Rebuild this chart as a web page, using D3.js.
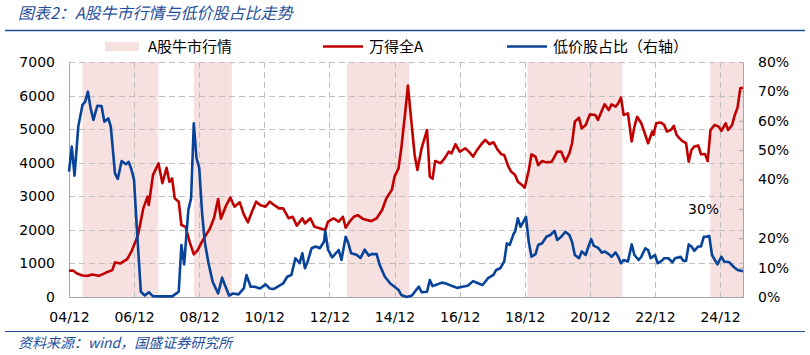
<!DOCTYPE html>
<html lang="zh">
<head>
<meta charset="utf-8">
<title>A股牛市行情与低价股占比走势</title>
<script src="https://d3js.org/d3.v7.min.js"></script>
<style>
  body { margin: 0; background: #fff; }
  svg { display: block; }
  text { font-family: "DejaVu Sans", Verdana, sans-serif; fill: #000; }
  .cjk { font-family: "Noto Sans CJK SC", "DejaVu Sans", sans-serif; }
</style>
</head>
<body>
<svg id="chart" width="810" height="355"></svg>
<script>
// bull market periods (shaded)
var bullStart = ["2005-05-01", "2008-10-01", "2013-06-15", "2019-01-01", "2024-08-15"];
var bullEnd   = ["2007-09-01", "2009-12-01", "2015-05-15", "2021-12-01", "2025-08-15"];

// 万得全A (left axis)
var windDates = ["2004-12","2005-01-15","2005-03","2005-05","2005-07","2005-08-15","2005-10","2005-11","2006-01-15","2006-04",
  "2006-05","2006-07","2006-09-15","2006-11","2007-01-15","2007-03-15","2007-05","2007-05-15","2007-07","2007-09",
  "2007-10-15","2007-12","2008-01","2008-02","2008-03","2008-04-15","2008-05-15","2008-07","2008-08-15","2008-10",
  "2008-11-15","2009-01","2009-04","2009-05-15","2009-07","2009-08","2009-10","2009-11-15","2010-01","2010-03",
  "2010-04-15","2010-06","2010-07-15","2010-09","2010-10-15","2010-12-15","2011-02","2011-04","2011-05-15","2011-07",
  "2011-09","2011-10-15","2011-12","2012-02","2012-03","2012-05","2012-06-15","2012-08-15","2012-10-15","2012-11-15",
  "2013-01-15","2013-03-15","2013-05","2013-06","2013-07-15","2013-09","2013-10-15","2013-12-15","2014-03-15","2014-05-15",
  "2014-07-15","2014-09","2014-11","2014-12","2015-01-15","2015-02-15","2015-04","2015-05","2015-06","2015-07-15",
  "2015-08-15","2015-10","2015-12","2016-01","2016-02","2016-03","2016-05","2016-06-15","2016-08","2016-09",
  "2016-10-15","2016-12","2017-02","2017-03-15","2017-05","2017-06-15","2017-08","2017-09-15","2017-11","2017-12-15",
  "2018-02","2018-03-15","2018-04-15","2018-06","2018-07","2018-08-15","2018-09-15","2018-11","2018-12","2019-01-15",
  "2019-02-15","2019-04","2019-05","2019-06-15","2019-08","2019-10","2019-12","2020-01-15","2020-03","2020-04-15",
  "2020-05-15","2020-06-15","2020-08","2020-09","2020-10-15","2020-12","2021-02","2021-03","2021-05-15","2021-07",
  "2021-08","2021-09-15","2021-10-15","2021-11-15","2021-12-15","2022-02","2022-03-15","2022-04-15","2022-05-15","2022-07",
  "2022-08-15","2022-09-15","2022-11","2022-11-15","2022-12-15","2023-02","2023-03-15","2023-04-15","2023-06","2023-07",
  "2023-08","2023-09","2023-10","2023-11-15","2023-12-15","2024-01-15","2024-02-15","2024-04","2024-05","2024-06-15",
  "2024-07-15","2024-08-15","2024-10","2024-11-15","2024-12-15","2025-02","2025-03","2025-04-15","2025-05-15","2025-06-15",
  "2025-07-15","2025-08-15"];
var windValues = [780,790,700,640,630,670,650,630,720,800,
  1030,1000,1130,1350,1850,2640,2990,2740,3630,3980,
  3390,3850,3430,3530,2940,2840,2145,2090,1650,1270,
  1400,1650,2045,2345,2920,2330,2740,2960,2690,2820,
  2460,2225,2540,2840,2740,2690,2840,2720,2640,2640,
  2345,2390,2125,2345,2190,2345,2095,2045,1995,2245,
  2345,2245,2390,2065,2245,2390,2440,2320,2260,2345,
  2590,2940,3190,3585,3830,4430,5520,6300,5425,4230,
  3785,4430,4975,3585,3520,4050,3985,4130,4330,4280,
  4550,4330,4430,4330,4180,4380,4550,4680,4550,4610,
  4380,4250,4230,3880,3735,3635,3435,3335,3255,3770,
  4250,4180,3930,4050,4010,4030,4330,4330,4030,4280,
  4580,5220,5340,5025,5125,5440,5420,5275,5740,5570,
  5740,5670,5770,5940,5420,5470,4630,5075,5370,5175,
  4830,4580,4930,4830,5175,5200,5125,4930,4980,5100,
  4830,4730,4650,4580,4030,4380,4480,4510,4250,4260,
  4050,4975,5125,5075,4950,5175,4975,5125,5420,5640,
  6215,6235];

// 低价股占比 % (right axis)
var lowDates = ["2004-12","2005-01","2005-02","2005-03-15","2005-05","2005-06","2005-07","2005-08","2005-09","2005-10-15",
  "2005-12","2006-01","2006-02-15","2006-03-15","2006-05","2006-06","2006-07-15","2006-09","2006-10","2006-11",
  "2006-12","2007-01","2007-02-15","2007-04","2007-05-15","2007-07","2007-10-15","2008-02","2008-04","2008-04-15",
  "2008-05-15","2008-06-15","2008-08","2008-09","2008-10","2008-11","2008-12","2009-01","2009-02","2009-03-15",
  "2009-05","2009-07","2009-08-15","2009-09-15","2009-11","2009-12-15","2010-02-15","2010-04-15","2010-05-15","2010-07",
  "2010-08-15","2010-10-15","2010-12-15","2011-02","2011-03-15","2011-05","2011-07","2011-08-15","2011-10","2011-11-15",
  "2012-01","2012-02","2012-03","2012-04","2012-05-15","2012-07","2012-08-15","2012-10","2012-10-15","2012-11-15",
  "2013-01","2013-03-15","2013-04-15","2013-06","2013-07","2013-08","2013-10","2013-11-15","2014-01","2014-02-15",
  "2014-03-15","2014-05-15","2014-06-15","2014-08-15","2014-10-15","2014-12","2015-01-15","2015-02-15","2015-04-15","2015-06-15",
  "2015-08","2015-09","2015-10","2015-12","2016-01","2016-02","2016-03-15","2016-05-15","2016-07","2016-09",
  "2016-11","2017-01","2017-03","2017-05","2017-07","2017-08-15","2017-10-15","2017-12-15","2018-01-15","2018-03",
  "2018-04-15","2018-05-15","2018-06-15","2018-08","2018-08-15","2018-09-15","2018-10-15","2018-11-15","2018-12-15","2019-01-15",
  "2019-02-15","2019-04","2019-05","2019-06-15","2019-08","2019-09-15","2019-11","2019-12","2020-01-15","2020-03",
  "2020-04-15","2020-05-15","2020-06-15","2020-08","2020-09","2020-10-15","2020-11-15","2020-12-15","2021-01-15","2021-03",
  "2021-04-15","2021-05-15","2021-07","2021-08","2021-09-15","2021-10-15","2021-11-15","2021-12-15","2022-02","2022-03-15",
  "2022-04-15","2022-06","2022-07","2022-08-15","2022-09-15","2022-10-15","2022-12","2023-01","2023-02-15","2023-03-15",
  "2023-05","2023-06-15","2023-07-15","2023-09-15","2023-10-15","2023-11-15","2023-12-15","2024-01-15","2024-02-15","2024-04",
  "2024-05","2024-06","2024-07","2024-08","2024-09","2024-11","2024-12-15","2025-01-15","2025-03-15","2025-05",
  "2025-06-15","2025-08-15"];
var lowValues = [42.7,51.2,41.3,58,65.4,66.5,69.9,64.2,60.3,65.1,
  65,59.7,60.8,58,42.1,40.2,46.3,45.2,46,43.5,
  39.8,23.4,1.8,0.5,1.6,0.3,0.2,0.2,1.5,1.8,
  17.7,11.1,29.6,33.6,59.1,47.2,44,29,18.8,11.5,
  5.2,1.2,6.6,4.1,0.5,1.2,0.9,2.9,7.5,3.5,
  3.5,2.9,4.3,2.9,2.7,3.5,4.6,6.9,7.5,13.2,
  11.5,14.9,9.8,12.1,16.6,17.2,16.6,18.8,22.5,16.1,
  13.5,16,12.6,20.5,18.3,14.9,14.4,13.3,16.1,14.1,
  14.6,14.6,11.1,6.9,4.6,3.5,2.4,0.7,0,0.5,
  2.4,3.5,1.6,1.8,5.8,3.7,4.2,4.9,4.6,3.8,
  3.1,3.5,3.8,5.4,4.6,4.1,6.4,7.5,9.2,9.8,
  12.1,18.3,17.7,21.7,22.2,26.8,23.9,25.6,27.3,18.8,
  13.7,14.6,17.7,18.3,20.5,21.1,22.5,19.4,20.5,22.2,
  21.1,18.8,14.3,13.2,15.5,14.3,17.2,19.7,17.4,16.8,
  15.1,15.5,14.6,13.7,15.2,13.7,11.5,12.6,12.1,17.9,
  14.3,12.6,13.7,16.6,16,13.2,14.3,11.5,12.3,13.2,
  13.2,11.8,13.2,13.7,12.3,12.3,17.9,17.2,15.7,17.2,
  17.2,20.5,20.5,20.8,14.3,11.1,13.7,12.1,11.8,10.3,
  9.2,8.8];

var leftTicks = [0, 1000, 2000, 3000, 4000, 5000, 6000, 7000];
var rightTicks = [0, 10, 20, 30, 40, 50, 60, 70, 80];
var xTickDates = ["2004-12","2006-12","2008-12","2010-12","2012-12","2014-12","2016-12","2018-12","2020-12","2022-12","2024-12"];

var parse = function(s) { return s.length == 7 ? d3.timeParse("%Y-%m")(s) : d3.timeParse("%Y-%m-%d")(s) };

var red = "#c00000", blue = "#08439a", navy = "#1f4e9a", pink = "#f6e0e0", grid = "#bfbfbf", axisCol = "#a6a6a6";

var plot = {left: 69, right: 743, top: 62, bottom: 297};

var x = d3.scaleTime().domain([parse("2004-12"), parse("2025-08-15")]).range([plot.left, plot.right]);
var yL = d3.scaleLinear().domain([0, 7000]).range([plot.bottom, plot.top]);
var yR = d3.scaleLinear().domain([0, 80]).range([plot.bottom, plot.top]);

var svg = d3.select("#chart");

// title + rules
svg.append("text").attr("class", "cjk").attr("x", 18).attr("y", 19)
  .style("font-size", "16px").style("font-style", "italic").style("fill", navy)
  .text("图表2：A股牛市行情与低价股占比走势");
svg.append("line").attr("x1", 5).attr("x2", 805).attr("y1", 30.5).attr("y2", 30.5)
  .attr("stroke", navy).attr("stroke-width", 1.5);
svg.append("line").attr("x1", 5).attr("x2", 805).attr("y1", 331.5).attr("y2", 331.5)
  .attr("stroke", navy).attr("stroke-width", 1.2);
svg.append("text").attr("class", "cjk").attr("x", 18).attr("y", 348)
  .style("font-size", "14px").style("font-style", "italic").style("fill", navy)
  .text("资料来源：wind，国盛证券研究所");

// shaded bull markets
svg.append("g").selectAll("rect").data(bullStart).join("rect")
  .attr("x", d => x(parse(d)))
  .attr("width", (d, i) => x(parse(bullEnd[i])) - x(parse(d)))
  .attr("y", plot.top).attr("height", plot.bottom - plot.top)
  .attr("fill", pink);

// horizontal grid
svg.append("g").selectAll("line").data(leftTicks.slice(1)).join("line")
  .attr("x1", plot.left).attr("x2", plot.right)
  .attr("y1", d => Math.round(yL(d)) + 0.5).attr("y2", d => Math.round(yL(d)) + 0.5)
  .attr("stroke", grid).attr("stroke-dasharray", "6,4");
// vertical grid
svg.append("g").selectAll("line").data(xTickDates.slice(1)).join("line")
  .attr("x1", d => Math.round(x(parse(d))) + 0.5).attr("x2", d => Math.round(x(parse(d))) + 0.5)
  .attr("y1", plot.top).attr("y2", plot.bottom)
  .attr("stroke", grid).attr("stroke-dasharray", "6,4");

// axes
var axL = svg.append("g").attr("transform", "translate(" + plot.left + ",0)")
  .call(d3.axisLeft(yL).tickValues(leftTicks).tickSize(0).tickPadding(14).tickFormat(d3.format("d")));
var axR = svg.append("g").attr("transform", "translate(" + plot.right + ",0)")
  .call(d3.axisRight(yR).tickValues(rightTicks).tickSize(-4).tickPadding(15).tickFormat(d => d + "%"));
var axB = svg.append("g").attr("transform", "translate(0," + plot.bottom + ")")
  .call(d3.axisBottom(x).tickValues(xTickDates.map(parse)).tickSize(0).tickPadding(15).tickFormat(d3.timeFormat("%y/%m")));
[axL, axR, axB].forEach(function(a) {
  a.select(".domain").attr("stroke", axisCol);
  a.selectAll(".tick line").attr("stroke", axisCol);
  a.selectAll("text").style("font-size", "14px").style("font-family", "DejaVu Sans, Verdana, sans-serif").attr("fill", "#000");
});
axR.selectAll(".tick line").attr("x2", -4).attr("x1", 0);
// the 30% label sits inside the plot in the original
axR.selectAll(".tick text").filter(d => d == 30).attr("x", -55);

// lines
var redLine = d3.line().x(d => x(parse(d[0]))).y(d => yL(d[1]));
var blueLine = d3.line().x(d => x(parse(d[0]))).y(d => yR(d[1]));
svg.append("path").datum(d3.zip(windDates, windValues)).attr("d", redLine)
  .attr("fill", "none").attr("stroke", red).attr("stroke-width", 2.6).attr("stroke-linejoin", "round");
svg.append("path").datum(d3.zip(lowDates, lowValues)).attr("d", blueLine)
  .attr("fill", "none").attr("stroke", blue).attr("stroke-width", 2.6).attr("stroke-linejoin", "round");

// legend
var lg = svg.append("g").attr("class", "cjk").style("font-size", "15px");
lg.append("rect").attr("x", 105).attr("y", 42).attr("width", 34).attr("height", 9).attr("fill", pink);
lg.append("text").attr("class", "cjk").attr("x", 148).attr("y", 52).style("font-size", "15px").text("A股牛市行情");
lg.append("line").attr("x1", 323).attr("x2", 363).attr("y1", 46.5).attr("y2", 46.5).attr("stroke", red).attr("stroke-width", 2.6);
lg.append("text").attr("class", "cjk").attr("x", 369).attr("y", 52).style("font-size", "15px").text("万得全A");
lg.append("line").attr("x1", 507).attr("x2", 547).attr("y1", 46.5).attr("y2", 46.5).attr("stroke", blue).attr("stroke-width", 2.6);
lg.append("text").attr("class", "cjk").attr("x", 553).attr("y", 52).style("font-size", "15px").text("低价股占比（右轴）");
</script>
</body>
</html>
